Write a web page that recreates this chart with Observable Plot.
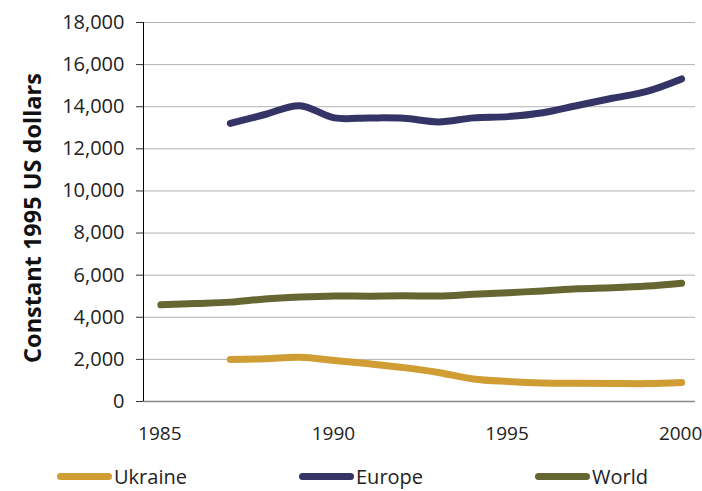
<!DOCTYPE html>
<html><head><meta charset="utf-8">
<script src="https://cdn.jsdelivr.net/npm/d3@7"></script>
<script src="https://cdn.jsdelivr.net/npm/@observablehq/plot@0.6"></script>
<style>
body{margin:0;background:#fff;font-family:"Open Sans",sans-serif;}
#legend{position:relative;height:41px;width:702px;font-size:20px;color:#222;}
.item{position:absolute;top:12px;height:28px;display:flex;align-items:center;}
.sw{width:55px;height:7px;border-radius:4px;margin-right:2px;}
</style></head><body>
<div id="chart"></div>
<div id="legend"></div>
<script>
const years = d3.range(1985, 2001);
const ukraineYears = d3.range(1987, 2001);
const ukraine = [2000, 2030, 2100, 1950, 1790, 1610, 1380, 1070, 950, 880, 870, 860, 850, 900];
const europeYears = d3.range(1987, 2001);
const europe = [13210, 13630, 14050, 13470, 13470, 13450, 13280, 13470, 13530, 13710, 14060, 14400, 14730, 15320];
const world = [4590, 4650, 4720, 4870, 4960, 5010, 5000, 5020, 5010, 5090, 5170, 5250, 5350, 5400, 5480, 5620];
const yTicks = d3.range(0, 18001, 2000);
const xTicks = [1985, 1990, 1995, 2000];
const seriesNames = ["Ukraine", "Europe", "World"];
const colors = ["#CF9D34", "#343466", "#666633"];

const data = [
  ...ukraineYears.map((y, i) => ({series: "Ukraine", year: y, value: ukraine[i]})),
  ...europeYears.map((y, i) => ({series: "Europe", year: y, value: europe[i]})),
  ...years.map((y, i) => ({series: "World", year: y, value: world[i]}))
];

const plot = Plot.plot({
  width: 702, height: 450,
  marginLeft: 143, marginRight: 7, marginTop: 22, marginBottom: 49,
  style: {fontFamily: "Open Sans, sans-serif", fontSize: "20px", color: "#222"},
  x: {domain: [1984.5, 2000.4], label: null},
  y: {domain: [0, 18000], label: null},
  color: {domain: seriesNames, range: colors},
  marks: [
    Plot.gridY(yTicks.filter(d => d > 0), {stroke: "#b3b3b3", strokeOpacity: 1, strokeWidth: 1}),
    Plot.ruleY([0], {stroke: "#888", strokeWidth: 1.5}),
    Plot.axisY({ticks: yTicks, tickFormat: d3.format(","), tickSize: 7, tickPadding: 12, stroke: "#333", fontSize: 20, label: null}),
    Plot.ruleX([1984.5], {y1: 0, y2: 18000, stroke: "#000", strokeWidth: 1}),
    Plot.axisX({ticks: xTicks, tickFormat: d => String(d), tickSize: 0, tickPadding: 25, fontSize: 19, dx: -1, label: null}),
    Plot.lineY(data, {x: "year", y: "value", z: "series", stroke: "series", strokeWidth: 7, curve: "catmull-rom", strokeLinecap: "round", strokeLinejoin: "round"}),
    Plot.text(["Constant 1995 US dollars"], {frameAnchor: "left", textAnchor: "middle", dx: -110, dy: 6, rotate: -90, fontWeight: "bold", fontSize: 23.5, fill: "#111"})
  ]
});
document.getElementById("chart").appendChild(plot);

const lg = document.getElementById("legend");
const lefts = [57, 299, 535];
seriesNames.forEach((n, i) => {
  const it = document.createElement("div");
  it.className = "item";
  it.style.left = lefts[i] + "px";
  it.innerHTML = `<div class="sw" style="background:${colors[i]}"></div><span>${n}</span>`;
  lg.appendChild(it);
});
</script>
</body></html>
